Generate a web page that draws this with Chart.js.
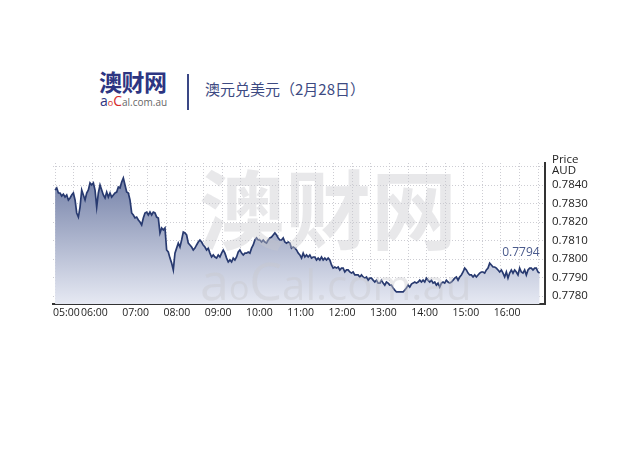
<!DOCTYPE html>
<html>
<head>
<meta charset="utf-8">
<script src="https://cdn.jsdelivr.net/npm/chart.js@4"></script>
<style>
body{margin:0;background:#fff;width:640px;height:454px;position:relative;overflow:hidden;font-family:"Open Sans","Noto Sans CJK SC",sans-serif}
#chart{position:absolute;left:0;top:0}
.logo{position:absolute;left:99px;top:67px;font:bold 23px "Noto Sans CJK SC";color:#2d3582;line-height:28px;letter-spacing:-0.5px}
.sub{position:absolute;left:100px;top:93px;line-height:14px;white-space:nowrap;font-family:"Open Sans"}
.sep{position:absolute;left:187px;top:74px;width:2px;height:36px;background:#3a4785}
.title{position:absolute;left:205px;top:79px;font:15px "Noto Sans CJK SC";color:#3d4a82;line-height:20px}
</style>
</head>
<body>
<div class="logo">澳财网</div>
<div class="sub"><span style="font-size:14px;color:#2d3582">a</span><span style="font-size:9px;color:#d62a2a">o</span><span style="font-size:14px;color:#d62a2a">C</span><span style="font-size:10px;color:#666">al.com.au</span></div>
<div class="sep"></div>
<div class="title">澳元兑美元（2月28日）</div>
<canvas id="chart" width="640" height="454"></canvas>
<script>
// AUD/USD intraday, 28 Feb, minutes after 05:00
const hourLabels = ['05:00','06:00','07:00','08:00','09:00','10:00','11:00','12:00','13:00','14:00','15:00','16:00'];
const yTickLabels = ['0.7780','0.7790','0.7800','0.7810','0.7820','0.7830','0.7840'];
const firstSample = 3;      // 05:03
const sampleMinutes = 2.42; // quote interval
const lastPriceLabel = '0.7794';

const prices = [
  0.78373,0.78384,0.78357,0.78357,0.78341,0.78351,0.78335,0.78346,0.78319,0.78330,
  0.78346,0.78357,0.78319,0.78249,0.78227,0.78281,0.78373,0.78346,0.78319,0.78357,
  0.78373,0.78411,0.78400,0.78411,0.78373,0.78281,0.78357,0.78400,0.78373,0.78346,
  0.78330,0.78362,0.78335,0.78357,0.78335,0.78346,0.78357,0.78362,0.78389,0.78384,
  0.78416,0.78438,0.78400,0.78362,0.78357,0.78319,0.78249,0.78238,0.78222,0.78227,
  0.78211,0.78200,0.78184,0.78222,0.78249,0.78254,0.78238,0.78254,0.78238,0.78254,
  0.78249,0.78227,0.78222,0.78141,0.78168,0.78157,0.78168,0.78049,0.78038,0.78005,
  0.77978,0.77941,
  0.78032,0.78059,0.78086,0.78065,0.78103,0.78146,0.78141,0.78130,0.78086,0.78076,
  0.78065,0.78049,0.78059,0.78076,0.78092,0.78103,0.78092,0.78076,0.78065,0.78049,
  0.78059,0.78032,0.78011,0.78022,0.78011,0.78005,0.78022,0.78011,0.78032,0.78049,
  0.78032,0.78005,0.77984,0.77995,0.77984,0.78005,0.77995,0.78011,0.78038,0.78049,
  0.78032,0.78022,0.78032,0.78032,0.78038,0.78032,0.78059,0.78076,0.78103,0.78114,
  0.78103,0.78103,0.78092,0.78103,0.78092,0.78086,0.78103,0.78114,0.78119,0.78130,
  0.78141,0.78130,0.78114,0.78103,0.78103,0.78114,0.78092,0.78086,0.78092,0.78086,
  0.78059,
  0.78065,0.78059,0.78049,0.78032,0.78022,0.78005,0.78032,0.78011,0.78022,0.78011,
  0.78022,0.78005,0.78011,0.78011,0.77995,0.78005,0.77995,0.78011,0.77995,0.78005,
  0.77995,0.78005,0.77995,0.77968,0.77951,0.77957,0.77951,0.77957,0.77941,0.77951,
  0.77951,0.77930,0.77941,0.77941,0.77930,0.77924,0.77930,0.77914,0.77914,0.77914,
  0.77903,0.77914,0.77903,0.77897,0.77903,0.77886,0.77897,0.77897,0.77886,0.77876,
  0.77886,0.77870,0.77870,0.77886,0.77870,0.77859,0.77876,0.77870,0.77859,0.77859,
  0.77843,0.77832,0.77822,0.77822,0.77822,0.77822,0.77822,0.77832,0.77843,0.77859,
  0.77849,0.77865,
  0.77870,0.77876,0.77870,0.77876,0.77886,0.77876,0.77886,0.77876,0.77897,0.77886,
  0.77876,0.77886,0.77870,0.77876,0.77859,0.77870,0.77849,0.77870,0.77876,0.77870,
  0.77886,0.77876,0.77870,0.77876,0.77886,0.77897,0.77903,0.77886,0.77903,0.77914,
  0.77930,0.77951,0.77941,0.77924,0.77914,0.77914,0.77903,0.77914,0.77903,0.77914,
  0.77924,0.77930,0.77930,0.77924,0.77941,0.77951,0.77978,0.77968,0.77957,0.77957,
  0.77951,0.77941,0.77930,0.77941,0.77924,0.77903,0.77930,0.77897,0.77924,0.77941,
  0.77924,0.77941,0.77930,0.77914,0.77951,0.77930,0.77924,0.77941,0.77914,0.77941,
  0.77951,0.77951,0.77941,0.77951,0.77951,0.77930,0.77924
];

const xMax = 715;
const gridMinutes = 27;

const points = prices.map((p, i) => ({x: firstSample + i * sampleMinutes, y: p}));

const overlay = {
  id: 'overlay',
  afterDatasetsDraw(chart) {
    const c = chart.ctx;
    c.save();
    c.fillStyle = 'rgba(200,200,206,0.42)';
    c.font = 'bold 86px "Noto Sans CJK SC"';
    c.textBaseline = 'alphabetic';
    c.fillText('澳财网', 199, 243);
    let x = 200;
    const parts = [['a', 52], ['o', 34], ['C', 52], ['al.com.au', 42]];
    parts.forEach(([t, s]) => {
      c.font = s + 'px "Open Sans"';
      c.fillText(t, x, 300);
      x += c.measureText(t).width;
    });
    c.restore();
  },
  afterDraw(chart) {
    const c = chart.ctx;
    const ys = chart.scales.y, xs = chart.scales.x;
    c.save();
    c.fillStyle = '#222';
    c.font = '11.5px "Open Sans"';
    c.textBaseline = 'middle';
    c.fillText('Price', ys.left + 7, 160);
    c.fillText('AUD', ys.left + 7, 171);
    const last = points[points.length - 1];
    c.fillStyle = '#4a5a8c';
    c.font = '12px "Open Sans"';
    c.textAlign = 'right';
    c.fillText(lastPriceLabel, xs.getPixelForValue(last.x), ys.getPixelForValue(last.y) - 21);
    c.restore();
  }
};

const ctx = document.getElementById('chart').getContext('2d');
const chart = new Chart(ctx, {
  type: 'line',
  data: {
    datasets: [{
      data: points,
      borderColor: '#283a70',
      borderWidth: 1.7,
      pointRadius: 0,
      tension: 0,
      fill: 'start',
      backgroundColor: (context) => {
        const area = context.chart.chartArea;
        if (!area) return 'rgba(140,150,185,0.8)';
        const g = context.chart.ctx.createLinearGradient(0, area.top, 0, area.bottom);
        g.addColorStop(0, 'rgb(104,118,160)');
        g.addColorStop(1, 'rgb(230,233,243)');
        return g;
      }
    }]
  },
  options: {
    responsive: false,
    animation: false,
    layout: { padding: { left: 53, top: 163, right: 35, bottom: 130 } },
    plugins: { legend: { display: false }, tooltip: { enabled: false } },
    scales: {
      x: {
        type: 'linear', position: 'bottom', min: 0, max: xMax,
        afterBuildTicks: s => {
          s.ticks = hourLabels.map((_, i) => ({ value: i * 60 }));
          s.ticks.push({ value: xMax });
        },
        ticks: {
          autoSkip: false, maxRotation: 0, align: 'inner', padding: 3,
          color: '#222', font: { size: 10.5, family: 'Open Sans' },
          callback: (v, i) => hourLabels[i] || ''
        },
        grid: { display: false, drawTicks: false },
        border: { display: true, color: '#333', width: 2 },
        afterFit: s => { s.height = 20; }
      },
      xg: {
        type: 'linear', position: 'top', min: 0, max: xMax, z: 1,
        afterBuildTicks: s => {
          const t = [];
          for (let m = firstSample; m < xMax; m += gridMinutes) t.push({ value: m });
          s.ticks = t;
        },
        ticks: { display: false },
        grid: { color: 'rgba(200,200,206,0.9)', drawTicks: false },
        border: { display: false, dash: [1, 2] },
        afterFit: s => { s.height = 0; }
      },
      y: {
        position: 'right', min: 0.77757, max: 0.78519, z: 1,
        afterBuildTicks: s => {
          const t = [];
          for (let i = 0; i <= 14; i++) t.push({ value: 0.778 + i * 0.0005 });
          s.ticks = t;
        },
        ticks: {
          padding: 7, color: '#222', font: { size: 11.5, family: 'Open Sans' },
          callback: v => {
            const s = Number(v).toFixed(4);
            return yTickLabels.includes(s) ? s : '';
          }
        },
        grid: { color: 'rgba(200,200,206,0.9)', drawTicks: false },
        border: { display: true, color: '#333', width: 2, dash: [1, 2] },
        afterFit: s => { s.width = 60; }
      }
    }
  },
  plugins: [overlay]
});
</script>
</body>
</html>
